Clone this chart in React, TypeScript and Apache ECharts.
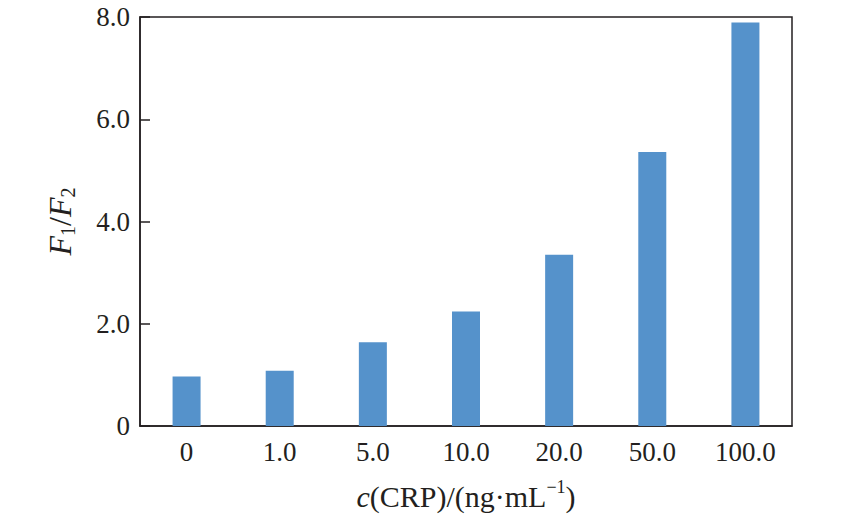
import React, { useEffect, useRef } from "react";
import * as echarts from "echarts";

const categories = ["0", "1.0", "5.0", "10.0", "20.0", "50.0", "100.0"];
const ratioValues = [0.97, 1.08, 1.64, 2.24, 3.35, 5.36, 7.89];
const yTickLabels = ["0", "2.0", "4.0", "6.0", "8.0"];

const FONT = "'Liberation Serif', 'Times New Roman', serif";
const INK = "#231f20";

export default function App() {
  const ref = useRef<HTMLDivElement>(null);
  useEffect(() => {
    if (!ref.current) return;
    const chart = echarts.init(ref.current, undefined, { renderer: "svg" });
    chart.setOption({
      animation: false,
      backgroundColor: "#ffffff",
      textStyle: { fontFamily: FONT },
      grid: {
        left: 140,
        right: 58,
        top: 17,
        bottom: 98,
        show: true,
        borderColor: INK,
        borderWidth: 1.5,
        backgroundColor: "transparent",
      },
      xAxis: {
        type: "category",
        data: categories,
        axisLine: { lineStyle: { color: INK, width: 1.5 } },
        axisTick: {
          inside: true,
          alignWithLabel: true,
          length: 10,
          lineStyle: { color: INK, width: 1.5 },
        },
        axisLabel: {
          color: INK,
          fontFamily: FONT,
          fontSize: 27,
          margin: 12,
        },
        name: "{it|c}{n|(CRP)/(ng·mL}{sup|−1}{n|)}",
        nameLocation: "middle",
        nameGap: 52,
        nameTextStyle: {
          color: INK,
          fontFamily: FONT,
          rich: {
            it: { fontFamily: FONT, fontStyle: "italic", fontSize: 30, lineHeight: 36, color: INK },
            n: { fontFamily: FONT, fontSize: 30, lineHeight: 36, color: INK },
            sup: { fontFamily: FONT, fontSize: 18, lineHeight: 24, verticalAlign: "top", color: INK },
          },
        },
      },
      yAxis: {
        type: "value",
        min: 0,
        max: 8,
        interval: 2,
        splitLine: { show: false },
        axisLine: { show: true, lineStyle: { color: INK, width: 1.5 } },
        axisTick: {
          show: true,
          inside: true,
          length: 10,
          lineStyle: { color: INK, width: 1.5 },
        },
        axisLabel: {
          color: INK,
          fontFamily: FONT,
          fontSize: 27,
          margin: 10,
          formatter: (v: number) => yTickLabels[Math.round(v / 2)] ?? String(v),
        },
        name: "{it|F}{sub|1}{n|/}{it|F}{sub|2}",
        nameLocation: "middle",
        nameGap: 62,
        nameTextStyle: {
          color: INK,
          fontFamily: FONT,
          rich: {
            it: { fontFamily: FONT, fontStyle: "italic", fontSize: 32, lineHeight: 36, color: INK },
            n: { fontFamily: FONT, fontSize: 32, lineHeight: 36, color: INK },
            sub: { fontFamily: FONT, fontSize: 20, lineHeight: 18, verticalAlign: "bottom", color: INK },
          },
        },
      },
      series: [
        {
          type: "bar",
          data: ratioValues,
          barWidth: 28,
          itemStyle: { color: "#5592cb" },
        },
      ],
    });
    return () => chart.dispose();
  }, []);
  return (
    <div
      ref={ref}
      style={{ position: "fixed", left: 0, top: 0, width: 850, height: 524, background: "#fff" }}
    />
  );
}
